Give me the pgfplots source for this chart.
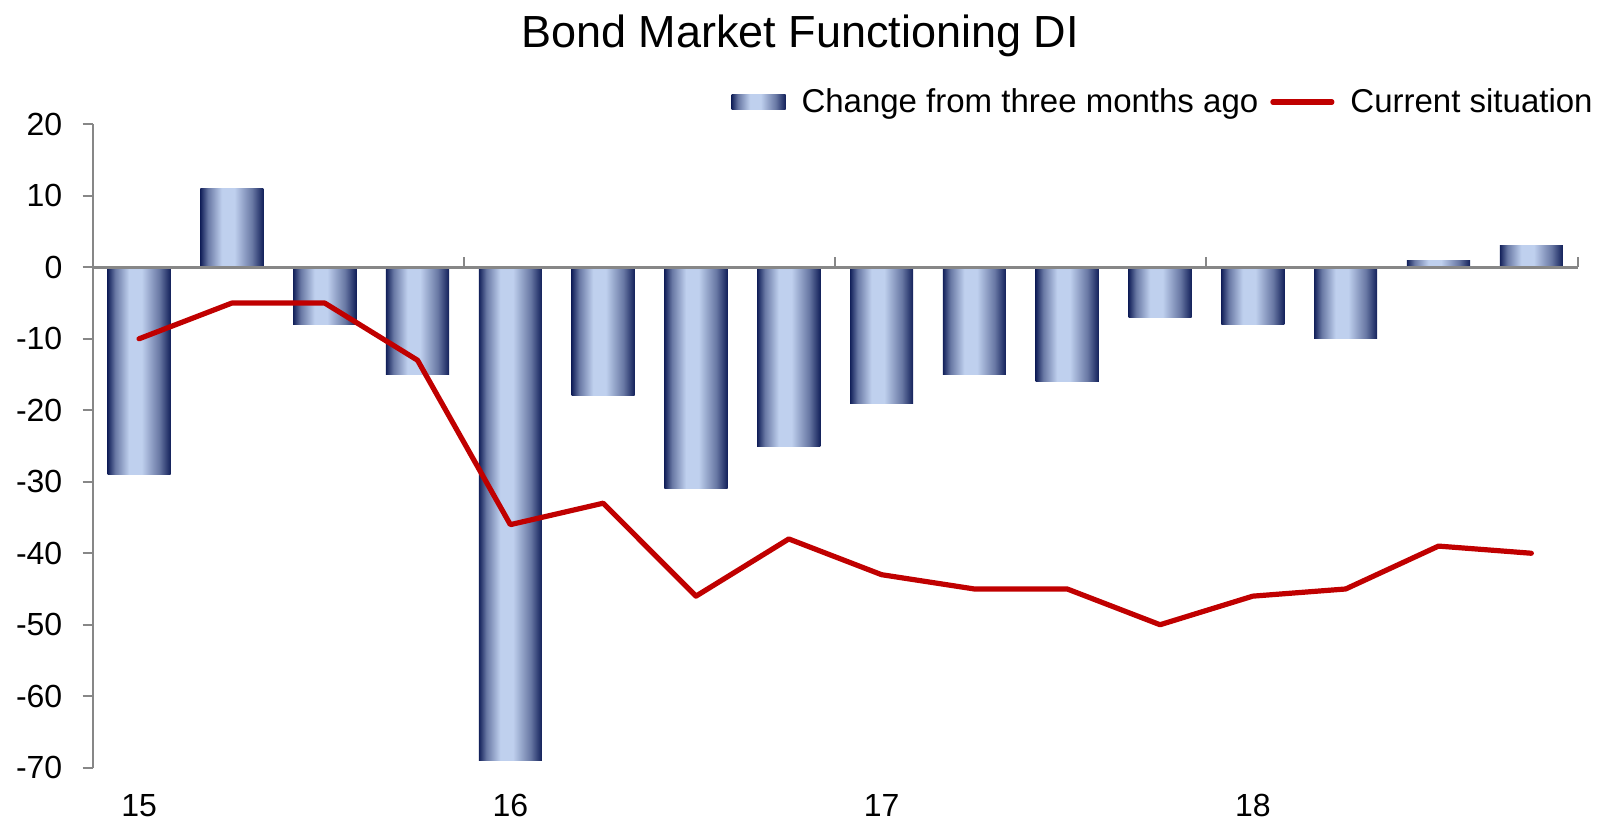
\documentclass[border=0pt]{standalone}
\usepackage{pgfplots}
\pgfplotsset{compat=1.18}
\usepackage{fontspec}
\setmainfont{Liberation Sans}
\definecolor{barnavy}{HTML}{12205A}
\definecolor{barlight}{HTML}{BFD0EE}
\colorlet{barmid}{barnavy!50!barlight}
\definecolor{linered}{HTML}{C00000}
\definecolor{axisgray}{HTML}{878787}
\pgfdeclarehorizontalshading{barshade}{100bp}{color(0bp)=(barnavy); color(25bp)=(barnavy); color(31bp)=(barmid); color(42bp)=(barlight); color(52bp)=(barlight); color(66bp)=(barmid); color(75bp)=(barnavy); color(100bp)=(barnavy)}
\pgfplotsset{
  mybar/.style={ybar, bar width=0.68, bar shift=0pt, draw=none, fill=none,
    shade, shading=barshade},
  mybarf/.style={mybar, forget plot},
}
\begin{document}
\begin{tikzpicture}
\path[use as bounding box] (-46.35pt,-26.65pt) rectangle (753.15pt,383.85pt);
\begin{axis}[
  scale only axis, width=742.5pt, height=321.7pt,
  xmin=0, xmax=16, ymin=-70, ymax=20,
  axis y line*=left, axis x line*=middle,
  x axis line style={-, draw=axisgray, line width=1.5pt},
  y axis line style={-, draw=axisgray, line width=1pt},
  xtick={0,4,8,12,16}, xticklabels={},
  ytick={-70,-60,...,20},
  minor tick num=0,
  xtick align=inside, ytick align=outside,
  major tick length=5pt,
  every tick/.style={draw=axisgray, line width=1pt},
  /pgf/number format/assume math mode=true,
  yticklabel style={font=\fontsize{16}{19}\selectfont, anchor=east, inner sep=0pt, xshift=-10pt},
  axis on top,
  clip=false,
  legend columns=2,
  legend style={at={(axis description cs:1.0103,1.0347)}, anchor=east, draw=none, fill=none,
    inner sep=0pt, font=\fontsize{16.5}{19}\selectfont,
    nodes={inner sep=0pt, anchor=west},
    /tikz/every odd column/.append style={column sep=8pt},
    /tikz/every even column/.append style={column sep=6pt}},
]
\addplot[mybar,
  legend image code/.code={\path[shade, shading=barshade] (0pt,-3.75pt) rectangle (27pt,3.75pt);}]
  coordinates {(0.5,-29)};
\addlegendentry{Change from three months ago}
\addplot[mybarf] coordinates {(1.5,11)};
\addplot[mybarf] coordinates {(2.5,-8)};
\addplot[mybarf] coordinates {(3.5,-15)};
\addplot[mybarf] coordinates {(4.5,-69)};
\addplot[mybarf] coordinates {(5.5,-18)};
\addplot[mybarf] coordinates {(6.5,-31)};
\addplot[mybarf] coordinates {(7.5,-25)};
\addplot[mybarf] coordinates {(8.5,-19)};
\addplot[mybarf] coordinates {(9.5,-15)};
\addplot[mybarf] coordinates {(10.5,-16)};
\addplot[mybarf] coordinates {(11.5,-7)};
\addplot[mybarf] coordinates {(12.5,-8)};
\addplot[mybarf] coordinates {(13.5,-10)};
\addplot[mybarf] coordinates {(14.5,1)};
\addplot[mybarf] coordinates {(15.5,3)};
\addplot[linered, line width=2.6pt, mark=none, line cap=round, line join=round,
  legend image code/.code={\draw[linered, line width=2.6pt, line cap=round] (0pt,0pt) -- (29.5pt,0pt);}]
  coordinates {
  (0.5,-10) (1.5,-5) (2.5,-5) (3.5,-13)
  (4.5,-36) (5.5,-33) (6.5,-46) (7.5,-38)
  (8.5,-43) (9.5,-45) (10.5,-45) (11.5,-50)
  (12.5,-46) (13.5,-45) (14.5,-39) (15.5,-40)};
\addlegendentry{Current situation}
\node[anchor=base, inner sep=0pt, yshift=-24.3pt, font=\fontsize{16}{19}\selectfont] at (axis cs:0.5,-70) {15};
\node[anchor=base, inner sep=0pt, yshift=-24.3pt, font=\fontsize{16}{19}\selectfont] at (axis cs:4.5,-70) {16};
\node[anchor=base, inner sep=0pt, yshift=-24.3pt, font=\fontsize{16}{19}\selectfont] at (axis cs:8.5,-70) {17};
\node[anchor=base, inner sep=0pt, yshift=-24.3pt, font=\fontsize{16}{19}\selectfont] at (axis cs:12.5,-70) {18};
\end{axis}
\node[anchor=base, font=\fontsize{22.5}{27}\selectfont] at (353.65pt,359.85pt) {Bond Market Functioning DI};
\end{tikzpicture}
\end{document}
